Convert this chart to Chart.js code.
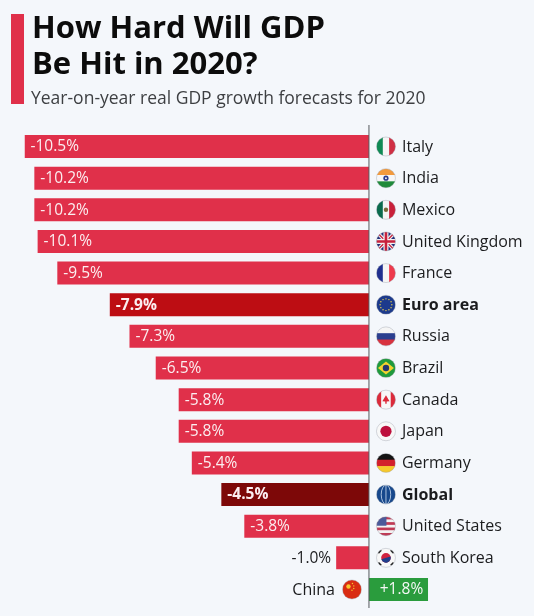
<!DOCTYPE html>
<html>
<head>
<meta charset="utf-8">
<title>How Hard Will GDP Be Hit in 2020?</title>
<script src="https://cdn.jsdelivr.net/npm/chart.js@4"></script>
<style>
  html, body { margin: 0; padding: 0; background: #f4f7fb; }
  body { position: relative; width: 534px; height: 616px; overflow: hidden; font-family: "Open Sans", sans-serif; }
  #accent { position: absolute; left: 11px; top: 14px; width: 13px; height: 90px; background: #e0304a; }
  h1 { position: absolute; left: 32px; top: 8px; margin: 0; font-size: 31px; line-height: 36px; font-weight: 700; color: #0c0c0c; }
  h2 { position: absolute; left: 31px; top: 85px; margin: 0; font-size: 17.5px; line-height: 24px; font-weight: 400; color: #3d3f42; }
  #wrap { position: absolute; left: 0; top: 0; width: 534px; height: 616px; }
  canvas { display: block; }
</style>
</head>
<body>
<div id="wrap"><canvas id="gdp" width="534" height="616"></canvas></div>
<div id="accent"></div>
<h1>How Hard Will GDP<br>Be Hit in 2020?</h1>
<h2>Year-on-year real GDP growth forecasts for 2020</h2>
<script>
const categories = ["Italy", "India", "Mexico", "United Kingdom", "France", "Euro area", "Russia", "Brazil", "Canada", "Japan", "Germany", "Global", "United States", "South Korea", "China"];
const growth = [-10.5, -10.2, -10.2, -10.1, -9.5, -7.9, -7.3, -6.5, -5.8, -5.8, -5.4, -4.5, -3.8, -1.0, 1.8];
const aggregates = ["Euro area", "Global"];

const RED = "#e0304a", EURO = "#bd0d13", GLOBAL = "#7d0808", GREEN = "#2a9c3d";
const TEXT = "#1b1c1e";
const FONT = '"Open Sans", sans-serif';

function barColor(name, v) {
  if (name === "Euro area") return EURO;
  if (name === "Global") return GLOBAL;
  return v > 0 ? GREEN : RED;
}

function stripesV(c, x, y, r, cols) {
  const w = 2 * r / cols.length;
  cols.forEach((col, i) => { c.fillStyle = col; c.fillRect(x - r + i * w, y - r, w + 0.5, 2 * r); });
}
function stripesH(c, x, y, r, cols) {
  const h = 2 * r / cols.length;
  cols.forEach((col, i) => { c.fillStyle = col; c.fillRect(x - r, y - r + i * h, 2 * r, h + 0.5); });
}
function dot(c, x, y, r, col) {
  c.fillStyle = col;
  c.beginPath(); c.arc(x, y, r, 0, Math.PI * 2); c.fill();
}

// little round flags, one painter per category
const flags = {
  "Italy": (c, x, y, r) => stripesV(c, x, y, r, ["#0f8a54", "#f5f5f5", "#d02f44"]),
  "India": (c, x, y, r) => {
    stripesH(c, x, y, r, ["#f39a3c", "#f7f7f7", "#1f8a3a"]);
    dot(c, x, y, 2.6, "#2a3a8c"); dot(c, x, y, 1, "#f7f7f7");
  },
  "Mexico": (c, x, y, r) => {
    stripesV(c, x, y, r, ["#0b6b4d", "#f5f5f5", "#c9203a"]);
    dot(c, x, y, 2.2, "#7a6a3a");
  },
  "United Kingdom": (c, x, y, r) => {
    c.fillStyle = "#25307a"; c.fillRect(x - r, y - r, 2 * r, 2 * r);
    c.lineCap = "butt";
    c.strokeStyle = "#f2f2f2"; c.lineWidth = 3.5;
    c.beginPath(); c.moveTo(x - r, y - r); c.lineTo(x + r, y + r); c.moveTo(x + r, y - r); c.lineTo(x - r, y + r); c.stroke();
    c.strokeStyle = "#c8213d"; c.lineWidth = 1.3; c.stroke();
    c.strokeStyle = "#f2f2f2"; c.lineWidth = 5;
    c.beginPath(); c.moveTo(x - r, y); c.lineTo(x + r, y); c.moveTo(x, y - r); c.lineTo(x, y + r); c.stroke();
    c.strokeStyle = "#c8213d"; c.lineWidth = 2.6; c.stroke();
  },
  "France": (c, x, y, r) => stripesV(c, x, y, r, ["#1f2f8f", "#f5f5f5", "#ee3a4c"]),
  "Euro area": (c, x, y, r) => {
    c.fillStyle = "#1c3a8c"; c.fillRect(x - r, y - r, 2 * r, 2 * r);
    for (let i = 0; i < 12; i++) {
      const a = i * Math.PI / 6;
      dot(c, x + Math.cos(a) * r * 0.62, y + Math.sin(a) * r * 0.62, 0.7, "#f4d84a");
    }
  },
  "Russia": (c, x, y, r) => stripesH(c, x, y, r, ["#f5f5f5", "#2b3f8f", "#d8323f"]),
  "Brazil": (c, x, y, r) => {
    c.fillStyle = "#1f9a3c"; c.fillRect(x - r, y - r, 2 * r, 2 * r);
    c.fillStyle = "#f3d32f";
    c.beginPath(); c.moveTo(x - r + 1.5, y); c.lineTo(x, y - r + 3); c.lineTo(x + r - 1.5, y); c.lineTo(x, y + r - 3); c.closePath(); c.fill();
    dot(c, x, y, 3.2, "#24386f");
  },
  "Canada": (c, x, y, r) => {
    stripesV(c, x, y, r, ["#dc2a3a", "#f7f7f7", "#f7f7f7", "#dc2a3a"]);
    c.fillStyle = "#dc2a3a";
    c.beginPath(); c.moveTo(x, y - 4.5); c.lineTo(x + 3.6, y + 1.5); c.lineTo(x + 0.7, y + 1.8); c.lineTo(x + 0.7, y + 4);
    c.lineTo(x - 0.7, y + 4); c.lineTo(x - 0.7, y + 1.8); c.lineTo(x - 3.6, y + 1.5); c.closePath(); c.fill();
  },
  "Japan": (c, x, y, r) => {
    c.fillStyle = "#f8f8f8"; c.fillRect(x - r, y - r, 2 * r, 2 * r);
    dot(c, x, y, 5.6, "#bd0f3c");
  },
  "Germany": (c, x, y, r) => stripesH(c, x, y, r, ["#141414", "#d3202c", "#f6c92c"]),
  "Global": (c, x, y, r) => {
    c.fillStyle = "#17488c"; c.fillRect(x - r, y - r, 2 * r, 2 * r);
    c.strokeStyle = "#cfe0f2"; c.lineWidth = 0.8;
    c.beginPath(); c.ellipse(x, y, r * 0.5, r, 0, 0, Math.PI * 2); c.moveTo(x, y - r); c.lineTo(x, y + r); c.stroke();
  },
  "United States": (c, x, y, r) => {
    stripesH(c, x, y, r, ["#bf3a55", "#f3f3f3", "#bf3a55", "#f3f3f3", "#bf3a55", "#f3f3f3", "#bf3a55"]);
    c.fillStyle = "#4a5a9a"; c.fillRect(x - r, y - r, r * 1.05, r * 0.95);
  },
  "South Korea": (c, x, y, r) => {
    c.fillStyle = "#f8f8f8"; c.fillRect(x - r, y - r, 2 * r, 2 * r);
    dot(c, x, y, 4.8, "#cf2340");
    c.fillStyle = "#1f3f8c";
    c.beginPath(); c.arc(x, y, 4.8, -0.3, Math.PI - 0.3); c.fill();
    c.fillStyle = "#222";
    [[-1, -1], [1, -1], [-1, 1], [1, 1]].forEach(([a, b]) => {
      c.save(); c.translate(x + a * r * 0.68, y + b * r * 0.68); c.rotate(a * b * -Math.PI / 4);
      c.fillRect(-2, -1.2, 4, 2.4); c.restore();
    });
  },
  "China": (c, x, y, r) => {
    c.fillStyle = "#d92c12"; c.fillRect(x - r, y - r, 2 * r, 2 * r);
    dot(c, x - 3.5, y - 3, 2.2, "#f7c92e");
    [[0.5, -6], [1.8, -3.6], [1.8, -1], [0, 0.8]].forEach(([a, b]) => dot(c, x + a, y + b, 0.7, "#f7c92e"));
  }
};

const annotate = {
  id: "annotate",
  afterDatasetsDraw(chart) {
    const c = chart.ctx, xs = chart.scales.x, ys = chart.scales.y;
    const zero = xs.getPixelForValue(0);
    const meta = chart.getDatasetMeta(0);

    // zero axis line
    c.save();
    c.strokeStyle = "#55585c"; c.lineWidth = 1;
    c.beginPath(); c.moveTo(zero, 125); c.lineTo(zero, 608); c.stroke();
    c.restore();

    categories.forEach((name, i) => {
      const v = growth[i], y = ys.getPixelForValue(i), end = xs.getPixelForValue(v);
      const bold = aggregates.includes(name);
      c.save();
      c.textBaseline = "middle";

      // value label
      c.font = (bold ? "700 " : "400 ") + "15.5px " + FONT;
      const label = (v > 0 ? "+" : "") + v.toFixed(1) + "%";
      if (v > 0) {
        c.fillStyle = "#f6f8f6"; c.textAlign = "center";
        c.fillText(label, (zero + end) / 2 + 3, y + 0.5);
      } else if (meta.data[i].width < 50) {
        c.fillStyle = TEXT; c.textAlign = "right";
        c.fillText(label, end - 5, y + 0.5);
      } else {
        c.fillStyle = "#fbeef0"; c.textAlign = "left";
        c.fillText(label, end + 6, y + 0.5);
      }

      // flag + category name
      const right = v < 0;
      const fx = right ? zero + 17 : zero - 17;
      c.save();
      c.beginPath(); c.arc(fx, y, 9.5, 0, Math.PI * 2); c.clip();
      flags[name](c, fx, y, 9.5);
      c.restore();
      c.strokeStyle = "rgba(150,155,165,0.55)"; c.lineWidth = 0.7;
      c.beginPath(); c.arc(fx, y, 9.5, 0, Math.PI * 2); c.stroke();
      c.font = (bold ? "700 " : "400 ") + "16px " + FONT;
      c.fillStyle = TEXT;
      c.textAlign = right ? "left" : "right";
      c.fillText(name, right ? zero + 33 : zero - 34, y + 0.5);
      c.restore();
    });
  }
};

new Chart(document.getElementById("gdp"), {
  type: "bar",
  data: {
    labels: categories,
    datasets: [{
      data: growth,
      backgroundColor: categories.map((n, i) => barColor(n, growth[i])),
      borderWidth: 0,
      categoryPercentage: 1,
      barPercentage: 0.727
    }]
  },
  options: {
    indexAxis: "y",
    responsive: false,
    animation: false,
    layout: { padding: { left: 24.5, right: 1, top: 130.7, bottom: 10.7 } },
    plugins: { legend: { display: false }, tooltip: { enabled: false } },
    scales: {
      x: { display: false, min: -10.5, max: 5 },
      y: { display: false }
    }
  },
  plugins: [annotate]
});
</script>
</body>
</html>
